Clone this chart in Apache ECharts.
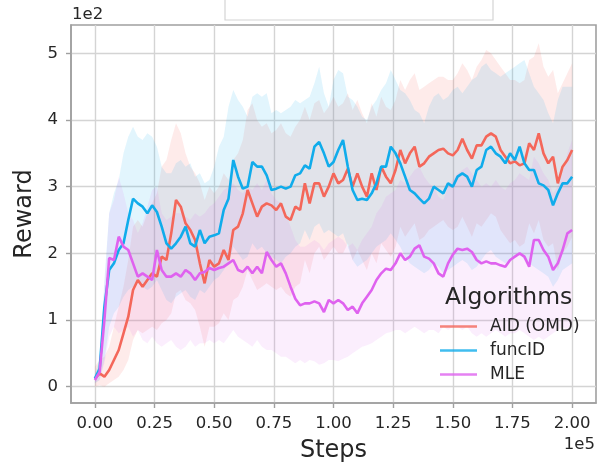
<!DOCTYPE html>
<html>
<head>
<meta charset="utf-8">
<script src="https://cdn.jsdelivr.net/npm/echarts@6/dist/echarts.min.js"></script>
<style>
html,body{margin:0;padding:0;background:#fff;}
#c{width:598px;height:462px;}
</style>
</head>
<body>
<div id="c"></div>
<script>
// Steps (in units of 1e5)
const steps = [0,0.02,0.04,0.06,0.08,0.1,0.12,0.14,0.16,0.18,0.2,0.22,0.24,0.26,0.28,0.3,0.32,0.34,0.36,0.38,0.4,0.42,0.44,0.46,0.48,0.5,
0.52,0.54,0.56,0.58,0.6,0.62,0.64,0.66,0.68,0.7,0.72,0.74,0.76,0.78,0.8,0.82,0.84,0.86,0.88,0.9,0.92,0.94,0.96,0.98,1.0,
1.02,1.04,1.06,1.08,1.1,1.12,1.14,1.16,1.18,1.2,1.22,1.24,1.26,1.28,1.3,1.32,1.34,1.36,1.38,1.4,1.42,1.44,1.46,1.48,1.5,
1.52,1.54,1.56,1.58,1.6,1.62,1.64,1.66,1.68,1.7,1.72,1.74,1.76,1.78,1.8,1.82,1.84,1.86,1.88,1.9,1.92,1.94,1.96,1.98,2.0];

// Reward (in units of 1e2)
const aidMean = [0.12,0.2,0.15,0.25,0.4,0.55,0.8,1.05,1.45,1.6,1.5,1.6,1.7,1.65,1.95,1.9,2.3,2.8,2.7,2.45,2.35,2.2,1.85,1.55,1.9,1.8,
1.85,2.05,1.9,2.35,2.4,2.6,2.95,2.75,2.55,2.7,2.75,2.72,2.65,2.75,2.55,2.5,2.7,2.65,3.05,2.75,3.05,3.05,2.85,3.0,3.2,
3.05,3.1,3.27,3.0,3.2,3.0,2.85,3.2,2.95,3.3,3.15,3.05,3.25,3.55,3.35,3.5,3.6,3.3,3.35,3.45,3.5,3.55,3.57,3.5,3.47,
3.55,3.72,3.55,3.42,3.62,3.62,3.75,3.8,3.75,3.55,3.45,3.35,3.38,3.32,3.35,3.65,3.55,3.8,3.5,3.35,3.45,3.05,3.3,3.4,3.55];
const aidUpper = [0.3,0.4,0.45,0.6,0.9,1.2,1.5,1.9,2.4,2.5,2.4,2.6,2.75,2.9,3.3,3.4,3.7,3.95,3.8,3.5,3.3,3.2,3.05,2.8,3.0,2.9,
3.0,3.2,3.1,3.4,3.5,3.7,4.15,4.25,4.0,3.9,3.95,3.8,3.85,3.95,3.8,3.75,3.9,4.0,4.2,4.0,4.25,4.3,4.1,4.2,4.35,
4.2,4.25,4.4,4.15,4.3,4.1,3.95,4.25,4.05,4.35,4.2,4.15,4.3,4.6,4.45,4.6,4.7,4.45,4.5,4.55,4.6,4.65,4.65,4.6,4.6,
4.7,4.85,4.75,4.6,4.8,4.9,5.05,5.0,4.9,4.8,4.7,4.6,4.6,4.55,4.6,4.9,4.95,5.15,4.8,4.65,4.75,4.4,4.55,4.7,4.85];
const aidLower = [0.0,0.02,0.0,0.05,0.1,0.15,0.25,0.4,0.7,0.85,0.8,0.85,0.9,0.85,0.95,1.0,1.1,1.4,1.45,1.3,1.25,1.15,0.9,0.6,0.9,0.9,
0.95,1.1,1.0,1.3,1.35,1.5,1.75,1.6,1.45,1.5,1.55,1.5,1.45,1.5,1.4,1.35,1.5,1.55,1.9,1.7,2.0,2.1,1.9,2.0,2.1,
2.0,2.0,2.15,1.9,2.05,1.9,1.75,2.0,1.85,2.15,2.05,1.95,2.1,2.4,2.25,2.35,2.45,2.2,2.25,2.35,2.4,2.45,2.5,2.4,2.35,
2.4,2.55,2.4,2.25,2.45,2.4,2.5,2.6,2.55,2.35,2.25,2.15,2.2,2.1,2.15,2.45,2.3,2.5,2.2,2.1,2.15,1.75,2.0,2.1,2.25];

const funcMean = [0.12,0.27,1.2,1.75,1.85,2.05,2.15,2.5,2.82,2.75,2.7,2.6,2.72,2.62,2.4,2.15,2.07,2.15,2.25,2.4,2.15,2.1,2.35,2.15,2.25,2.27,
2.3,2.65,2.82,3.4,3.15,2.97,3.0,3.37,3.3,3.3,3.17,2.95,2.97,3.0,2.97,3.0,3.17,3.2,3.32,3.27,3.6,3.67,3.5,3.3,3.37,
3.55,3.7,3.3,2.95,2.8,2.82,2.8,2.9,3.05,3.3,3.3,3.6,3.5,3.35,3.15,2.95,2.9,2.82,2.75,2.82,3.0,2.95,2.9,3.05,3.0,
3.15,3.2,3.15,3.0,3.25,3.3,3.55,3.6,3.5,3.45,3.35,3.5,3.4,3.6,3.35,3.25,3.25,3.05,3.02,2.95,2.72,2.9,3.05,3.05,3.15];
const funcUpper = [0.2,0.4,1.6,2.6,2.9,3.1,3.5,3.75,3.9,3.75,3.7,3.8,3.75,3.6,3.3,3.2,3.2,3.35,3.4,3.3,3.35,3.15,3.2,3.05,3.1,3.3,
3.6,3.75,4.2,4.45,4.3,4.2,4.05,4.35,4.4,4.35,4.4,4.1,4.15,4.1,4.15,4.2,4.3,4.25,4.3,4.35,4.55,4.8,4.4,4.2,4.6,
4.75,4.7,4.35,4.3,4.2,4.05,4.0,4.2,4.3,4.45,4.55,4.75,4.6,4.45,4.4,4.3,4.15,4.1,3.95,4.2,4.35,4.4,4.3,4.35,4.45,
4.5,4.4,4.5,4.6,4.65,4.8,4.85,4.75,4.7,4.65,4.7,4.75,4.8,4.85,4.9,4.7,4.5,4.4,4.3,4.1,3.95,4.3,4.5,4.5,4.5];
const funcLower = [0.05,0.1,0.4,0.9,1.1,1.2,1.35,1.45,1.5,1.55,1.5,1.45,1.5,1.6,1.45,1.3,1.25,1.35,1.4,1.45,1.35,1.3,1.45,1.4,1.5,1.6,
1.65,1.75,1.85,2.1,2.0,1.9,1.95,2.15,2.05,2.1,2.0,1.95,1.9,1.85,1.95,2.0,2.1,2.15,2.35,2.2,2.4,2.45,2.3,2.35,2.3,
2.25,2.3,2.1,1.9,1.8,1.85,1.9,2.0,2.1,2.15,2.2,2.3,2.2,2.1,1.95,1.85,1.8,1.75,1.7,1.75,1.85,1.8,1.7,1.75,1.8,
1.85,1.9,1.85,1.75,1.8,1.9,2.0,2.05,1.95,1.9,1.85,1.9,1.95,2.0,1.9,1.85,1.8,1.75,1.7,1.65,1.5,1.6,1.75,1.8,1.85];

const mleMean = [0.1,0.22,1.0,1.93,1.9,2.25,2.1,2.05,1.85,1.65,1.7,1.65,1.6,2.05,1.75,1.65,1.65,1.7,1.65,1.75,1.7,1.6,1.7,1.72,1.78,1.75,
1.78,1.8,1.85,1.9,1.75,1.72,1.8,1.7,1.8,1.7,2.02,1.9,1.8,1.85,1.7,1.5,1.32,1.22,1.25,1.25,1.28,1.25,1.12,1.3,1.25,
1.3,1.25,1.15,1.2,1.1,1.25,1.35,1.45,1.6,1.7,1.77,1.75,1.85,2.0,1.9,1.95,2.07,2.12,1.95,1.92,1.85,1.7,1.65,1.85,1.98,
2.07,2.05,2.07,2.02,1.9,1.85,1.88,1.85,1.85,1.82,1.8,1.9,1.95,2.0,1.95,1.8,2.2,2.2,2.05,1.95,1.75,1.85,2.05,2.3,2.35];
const mleUpper = [0.15,0.3,1.5,2.6,2.8,3.15,2.9,2.6,2.5,2.3,2.45,2.7,2.95,3.0,2.6,2.5,2.55,2.6,2.6,2.55,2.5,2.6,2.55,2.6,2.7,2.75,
2.85,2.95,3.0,3.05,2.95,2.9,3.0,2.95,3.05,2.95,3.1,2.9,2.8,2.75,2.6,2.4,2.2,2.1,2.1,2.15,2.2,2.15,2.05,2.15,2.2,
2.25,2.2,2.1,2.15,2.05,2.2,2.3,2.4,2.6,2.7,2.85,2.9,2.95,3.1,3.05,3.15,3.25,3.3,3.15,3.05,3.0,2.85,2.8,3.0,3.1,
3.2,3.25,3.3,3.2,3.1,3.0,3.05,3.0,3.1,3.0,2.95,3.05,3.1,3.2,3.15,3.1,3.45,3.35,3.2,3.1,2.9,3.0,3.2,3.5,3.7];
const mleLower = [0.05,0.1,0.35,0.75,0.9,0.8,0.85,0.9,0.75,0.85,0.7,0.65,0.75,0.65,0.6,0.65,0.7,0.6,0.55,0.6,0.7,0.6,0.65,0.65,0.7,0.65,
0.7,0.65,0.75,0.85,0.75,0.7,0.65,0.6,0.7,0.6,0.55,0.55,0.5,0.45,0.45,0.4,0.35,0.4,0.35,0.4,0.38,0.33,0.35,0.4,0.4,
0.38,0.42,0.45,0.5,0.55,0.6,0.62,0.65,0.7,0.75,0.8,0.82,0.85,0.85,0.8,0.85,0.9,0.85,0.8,0.85,0.85,0.8,0.9,0.85,0.9,
0.9,0.85,0.9,0.8,0.75,0.8,0.75,0.8,0.85,0.8,0.75,0.8,0.8,0.85,0.8,0.75,0.7,0.75,0.7,0.75,0.8,0.85,0.9,0.85,0.9];

const xTicks = [0, 0.25, 0.5, 0.75, 1.0, 1.25, 1.5, 1.75, 2.0];
const yTicks = [0, 1, 2, 3, 4, 5];
const names = ['AID (OMD)', 'funcID', 'MLE'];
const colors = ['#f4675a', '#10aceb', '#df62ef'];
const bandOpacity = [0.13, 0.12, 0.11];

const means = [aidMean, funcMean, mleMean];
const uppers = [aidUpper, funcUpper, mleUpper];
const lowers = [aidLower, funcLower, mleLower];

function bandSeries(s) {
  const data = steps.map((x, i) => [x, lowers[s][i], uppers[s][i]]);
  return {
    type: 'custom', silent: true, z: 1,
    encode: { x: 0, y: [1, 2] },
    data: data,
    renderItem: function (params, api) {
      if (params.dataIndex !== 0) return null;
      const top = data.map(d => api.coord([d[0], d[2]]));
      const bot = data.map(d => api.coord([d[0], d[1]])).reverse();
      return {
        type: 'polygon',
        shape: { points: top.concat(bot) },
        style: { fill: colors[s], opacity: bandOpacity[s] }
      };
    }
  };
}

const series = [];
names.forEach((n, s) => series.push(bandSeries(s)));
names.forEach((n, s) => {
  series.push({
    type: 'line', name: n, symbol: 'none',
    data: steps.map((x, i) => [x, means[s][i]]),
    lineStyle: { color: colors[s], width: 2.6 }, itemStyle: { color: colors[s] }, z: 3
  });
});

const txt = '#262626';
const frame = '#a0a0a0';
const gridc = '#d4d4d4';
const chart = echarts.init(document.getElementById('c'), null, { renderer: 'canvas' });
chart.setOption({
  animation: false,
  backgroundColor: '#fff',
  grid: { left: 71, top: 25, right: 2, bottom: 59, outerBoundsMode: 'none', containLabel: false, show: true, borderColor: frame, borderWidth: 1.6, backgroundColor: 'transparent' },
  title: { text: 'Algorithms', left: 440, top: 281, textStyle: { fontFamily: 'DejaVu Sans', fontSize: 23.5, fontWeight: 'normal', color: txt } },
  legend: {
    data: names, orient: 'vertical', left: 440, top: 318, itemGap: 7, padding: 0,
    icon: 'rect', itemWidth: 37, itemHeight: 2.6,
    itemStyle: { opacity: 0.8 },
    textStyle: { fontFamily: 'DejaVu Sans', fontSize: 17, color: txt, padding: [0, 0, 0, 8] }
  },
  xAxis: {
    type: 'value', min: -0.1, max: 2.1,
    name: 'Steps', nameLocation: 'middle', nameGap: 36,
    nameTextStyle: { fontFamily: 'DejaVu Sans', fontSize: 24, color: txt },
    axisLine: { show: true, onZero: false, lineStyle: { color: frame, width: 1.6 } },
    axisTick: { show: true, customValues: xTicks, length: 5, lineStyle: { color: frame, width: 1.4 } },
    axisLabel: { customValues: xTicks, margin: 12, fontFamily: 'DejaVu Sans', fontSize: 16.5, color: txt, formatter: v => v.toFixed(2) },
    splitLine: { show: true, lineStyle: { color: gridc, width: 1.4 } }
  },
  yAxis: {
    type: 'value', min: -0.245, max: 5.425,
    name: 'Reward', nameLocation: 'middle', nameGap: 32, nameRotate: 90,
    nameTextStyle: { fontFamily: 'DejaVu Sans', fontSize: 24, color: txt },
    axisLine: { show: true, onZero: false, lineStyle: { color: frame, width: 1.6 } },
    axisTick: { show: true, customValues: yTicks, length: 5, lineStyle: { color: frame, width: 1.4 } },
    axisLabel: { customValues: yTicks, margin: 13, fontFamily: 'DejaVu Sans', fontSize: 16.5, color: txt, formatter: v => String(Math.round(v)) },
    splitLine: { show: true, lineStyle: { color: gridc, width: 1.4 } }
  },
  graphic: [
    { type: 'rect', shape: { x: 225, y: -5, width: 268, height: 25 }, style: { fill: '#fff', stroke: '#d4d4d4', lineWidth: 1.2 } },
    { type: 'text', left: 72, top: 6, style: { text: '1e2', fontFamily: 'DejaVu Sans', fontSize: 16.5, fill: txt } },
    { type: 'text', right: 3, top: 436, style: { text: '1e5', fontFamily: 'DejaVu Sans', fontSize: 16.5, fill: txt } }
  ],
  series: series
});
</script>
</body>
</html>
